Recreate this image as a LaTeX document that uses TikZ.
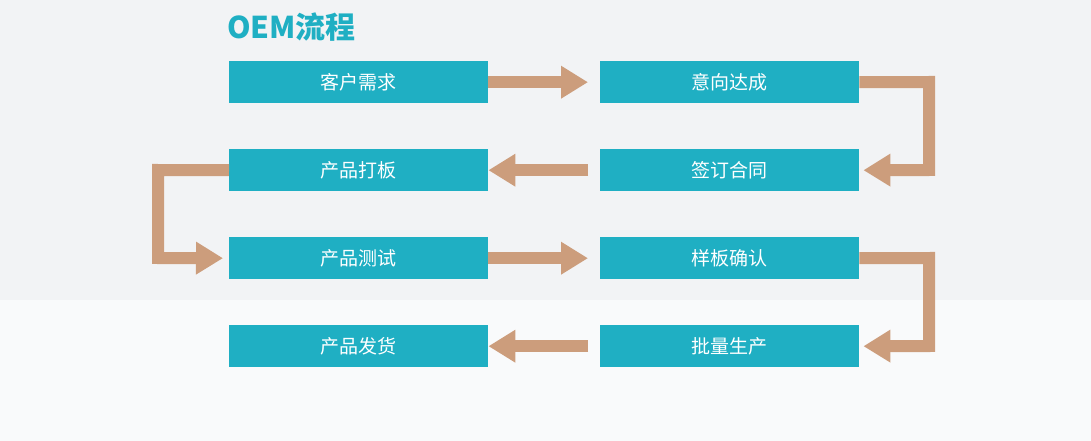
\documentclass[tikz,border=0pt]{standalone}
\usepackage{fontspec}
\setmainfont{Noto Sans CJK SC}
\usetikzlibrary{arrows.meta}
\definecolor{teal1}{HTML}{1FAFC3}
\definecolor{tan1}{HTML}{CC9D7C}
\definecolor{bg}{HTML}{F2F3F5}
\begin{document}
\begin{tikzpicture}[x=1pt,y=-1pt,
  box/.style={fill=teal1,text=white,minimum width=259pt,minimum height=42pt,inner sep=0pt,font=\fontsize{19}{19}\selectfont,anchor=north west},
  conn/.style={draw=tan1,line width=12pt,-{Triangle[width=31pt,length=27pt]}}]
\fill[bg] (0,0) rectangle (1091,441);
\fill[white,opacity=0.6] (0,300) rectangle (1091,441);
\useasboundingbox (0,0) rectangle (1091,441);
\node[anchor=west,text=teal1,font=\bfseries\fontsize{30}{30}\selectfont,inner sep=0pt] (title) at (227,27) {OEM流程};
\node[box] (a) at (229,61) {客户需求};
\node[box] (b) at (600,61) {意向达成};
\node[box] (c) at (229,149) {产品打板};
\node[box] (d) at (600,149) {签订合同};
\node[box] (e) at (229,237) {产品测试};
\node[box] (f) at (600,237) {样板确认};
\node[box] (g) at (229,325) {产品发货};
\node[box] (h) at (600,325) {批量生产};
\coordinate (bx) at (929,82);
\coordinate (dx) at (929,170);
\coordinate (cx) at (158,170);
\coordinate (ex) at (158,258);
\coordinate (fx) at (929,258);
\coordinate (hx) at (929,346);
\draw[conn] (a.east) -- ([xshift=-12pt]b.west);
\draw[conn] (d.west) ++(-12pt,0) -- (c.east);
\draw[conn] (e.east) -- ([xshift=-12pt]f.west);
\draw[conn] (h.west) ++(-12pt,0) -- (g.east);
\draw[conn] (b.east) -- (bx) -- (dx) -- ([xshift=4pt]d.east);
\draw[conn] (c.west) -- (cx) -- (ex) -- ([xshift=-6pt]e.west);
\draw[conn] (f.east) -- (fx) -- (hx) -- ([xshift=4pt]h.east);
\end{tikzpicture}
\end{document}
